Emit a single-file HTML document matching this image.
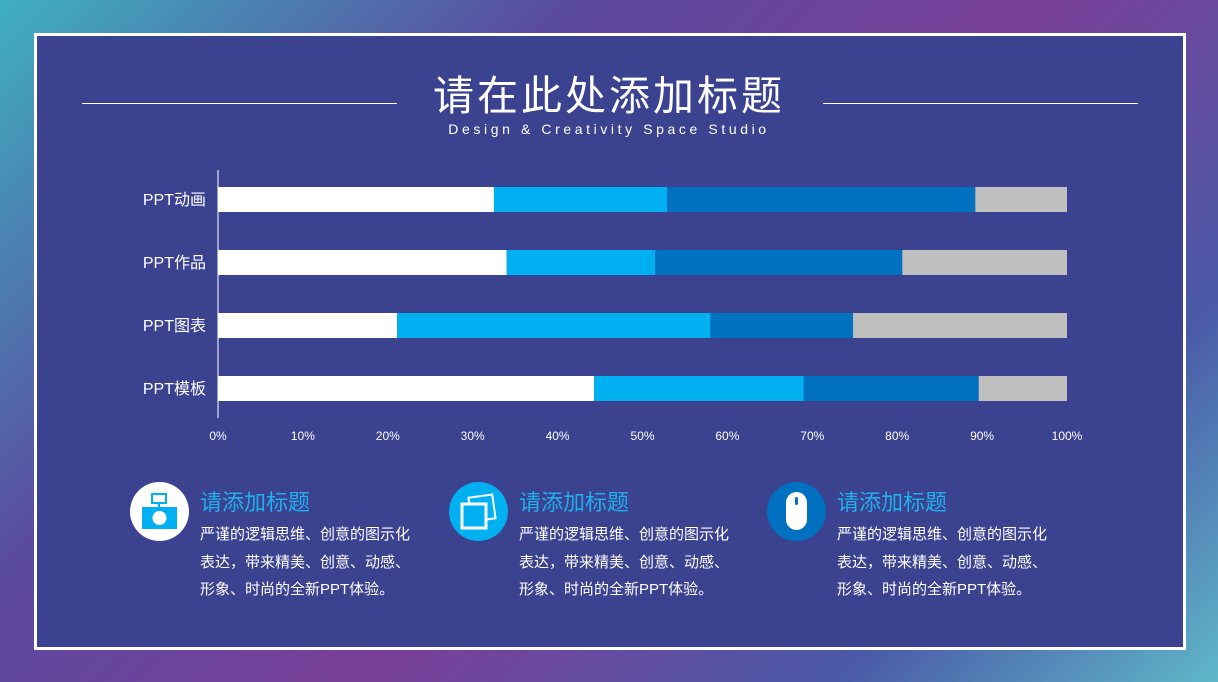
<!DOCTYPE html>
<html><head><meta charset="utf-8">
<style>
html,body{margin:0;padding:0}
body{width:1218px;height:682px;overflow:hidden;position:relative;font-family:"Liberation Sans","Noto Sans CJK SC",sans-serif;
background:linear-gradient(135deg,#3fb0c0 0%,#5a4aa0 30%,#7a3f98 55%,#4a5aa8 80%,#5fb7c8 100%);}
#frame{position:absolute;left:34px;top:33px;width:1146px;height:611px;border:3px solid #fff;background:#3b4290;}
.t{position:absolute;color:#fff;white-space:nowrap}
</style></head><body>
<div id="frame"></div>
<div class="t" style="left:0;width:1218px;text-align:center;top:62px;font-size:41px;letter-spacing:3px;">请在此处添加标题</div>
<div style="position:absolute;left:82px;top:103px;width:315px;height:1px;background:#fff"></div>
<div style="position:absolute;left:823px;top:103px;width:315px;height:1px;background:#fff"></div>
<div class="t" style="left:0;width:1218px;text-align:center;top:121px;font-size:14px;letter-spacing:3.6px;">Design &amp; Creativity Space Studio</div>
<svg id="chart" width="1218" height="682" style="position:absolute;left:0;top:0"></svg>

<div style="position:absolute;left:130px;top:482px;width:59px;height:59px;border-radius:50%;background:#fff">
<svg width="59" height="59"><rect x="22" y="12" width="14" height="9" fill="none" stroke="#00b0f0" stroke-width="2"/><rect x="28" y="20" width="2" height="5" fill="#00b0f0"/><rect x="12" y="25" width="35" height="22" fill="#00b0f0"/><circle cx="29.5" cy="36" r="7" fill="#fff"/></svg></div>
<div style="position:absolute;left:449px;top:482px;width:59px;height:59px;border-radius:50%;background:#00b0f0">
<svg width="59" height="59"><rect x="21" y="14" width="24" height="24" fill="none" stroke="#fff" stroke-width="2" transform="rotate(-8 33 26)"/><rect x="13" y="22" width="24" height="24" fill="#00b0f0" stroke="#fff" stroke-width="3"/></svg></div>
<div style="position:absolute;left:767px;top:482px;width:59px;height:59px;border-radius:50%;background:#0070c0">
<svg width="59" height="59"><rect x="19" y="10" width="21" height="38" rx="10.5" fill="#fff"/><rect x="28" y="15" width="3" height="8" rx="1.5" fill="#0070c0"/></svg></div>

<div id="cards"></div>
<script>
const categories=["PPT动画","PPT作品","PPT图表","PPT模板"];
const seriesWhite=[32.5,34.0,21.1,44.3];
const seriesLight=[20.4,17.5,36.9,24.7];
const seriesDark=[36.3,29.1,16.8,20.6];
const seriesGray=[10.8,19.4,25.2,10.4];
const ticks=["0%","10%","20%","30%","40%","50%","60%","70%","80%","90%","100%"];
const tickValues=[0,10,20,30,40,50,60,70,80,90,100];
const NS="http://www.w3.org/2000/svg";
const svg=document.getElementById('chart');
const x=v=>218+v*8.49;
const y=i=>187+i*63;
function mk(tag,attrs){const e=document.createElementNS(NS,tag);for(const k in attrs)e.setAttribute(k,attrs[k]);svg.appendChild(e);return e;}
const series=[[seriesWhite,"#ffffff","white"],[seriesLight,"#00b0f0","light-blue"],[seriesDark,"#0070c0","dark-blue"],[seriesGray,"#bfbfbf","gray"]];
categories.forEach((c,i)=>{
  let acc=0;
  series.forEach(([vals,col,nm])=>{
    const r=mk('rect',{x:x(acc),y:y(i),width:x(acc+vals[i])-x(acc),height:25,fill:col});
    
    
    acc+=vals[i];
  });
  const t=mk('text',{x:206,y:y(i)+18,'text-anchor':'end',fill:'#fff','font-size':16});
  
  
  t.textContent=c;
});
const ax=mk('line',{x1:218,x2:218,y1:170,y2:418,stroke:'#fff','stroke-width':1});


ticks.forEach((tk,i)=>{
  const t=mk('text',{x:x(tickValues[i]),y:440,'text-anchor':'middle',fill:'#fff','font-size':12});
  
  
  t.textContent=tk;
});
const cards=document.getElementById('cards');
[200,519,837].forEach((lx,k)=>{
  const h=document.createElement('div');h.className='t';
  
  
  h.style.cssText='left:'+lx+'px;top:485px;font-size:22px;color:#1fb0ec';
  h.textContent='请添加标题';cards.appendChild(h);
  ["严谨的逻辑思维、创意的图示化","表达，带来精美、创意、动感、","形象、时尚的全新PPT体验。"].forEach((s,j)=>{
    const d=document.createElement('div');d.className='t';
    
    
    d.style.cssText='left:'+lx+'px;top:'+(523+j*27.5)+'px;font-size:15px;';
    d.textContent=s;cards.appendChild(d);
  });
});
</script>
</body></html>
